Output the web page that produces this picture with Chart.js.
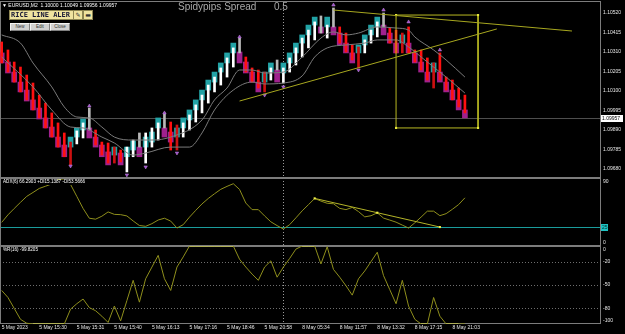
<!DOCTYPE html>
<html>
<head>
<meta charset="utf-8">
<script src="https://cdn.jsdelivr.net/npm/chart.js@4.4.1/dist/chart.umd.min.js"></script>
<style>
  body { margin: 0; background: #000; }
  #wrap { position: relative; width: 625px; height: 334px; overflow: hidden; background: #000; font-family: "Liberation Sans", Arial, sans-serif; }
  canvas { position: absolute; left: 0; }
  .txt { position: absolute; white-space: nowrap; line-height: 1; }
  #alertBox { position: absolute; left: 9px; top: 10px; width: 62px; height: 8px; background: #efe3a0; border: 1px solid #8d8552;
              font: bold 7px "DejaVu Sans Mono", monospace; color: #141432; line-height: 8px; padding-left: 1px; overflow: hidden; white-space: nowrap; }
  .iconBtn { position: absolute; top: 10px; width: 8px; height: 8px; background: #efe3a0; border: 1px solid #8d8552;
             font: 6px "DejaVu Sans", sans-serif; color: #333; line-height: 8px; text-align: center; }
  .btn { position: absolute; top: 23px; width: 18px; height: 6px; background: #d0d0d0; border: 1px solid #f4f4f4; border-right-color: #808080; border-bottom-color: #808080;
         font: 4.5px "Liberation Sans", sans-serif; color: #303030; line-height: 6px; text-align: center; }
</style>
</head>
<body>
<div id="wrap">
  <canvas id="mainChart" width="625" height="178" style="top:0"></canvas>
  <canvas id="adxChart" width="625" height="68" style="top:178px"></canvas>
  <canvas id="wprChart" width="625" height="88" style="top:246px"></canvas>

  <div class="txt" style="left:2px;top:3px;font-size:5px;color:#fff">&#9660; EURUSD,M2&nbsp; 1.10000 1.10049 1.09956 1.09957</div>
  <div class="txt" style="left:178px;top:1.5px;font-size:10px;color:#a8a8a8">Spidypips Spread</div>
  <div class="txt" style="left:274px;top:1.5px;font-size:10px;color:#a8a8a8">0.5</div>
  <div id="alertBox">RICE LINE ALER</div>
  <div class="iconBtn" style="left:73px">&#9998;</div>
  <div class="iconBtn" style="left:83px">&#9644;</div>
  <div class="btn" style="left:10px">New</div>
  <div class="btn" style="left:30px">Edit</div>
  <div class="btn" style="left:50px">Close</div>
  <div class="txt" style="left:3px;top:180px;font-size:4.6px;color:#fff;background:#000">ADX(6) 66.2903 +DI15.1387 -DI53.5666</div>
  <div class="txt" style="left:3px;top:248px;font-size:4.6px;color:#fff">%R(16) -99.8205</div>
</div>
<script>
// ---- data ----
const timeLabels = ['5 May 2023', '5 May 15:30', '5 May 15:31', '5 May 15:40', '5 May 16:13', '5 May 17:16', '5 May 18:46',
                    '5 May 20:58', '8 May 05:34', '8 May 11:57', '8 May 13:32', '8 May 17:15', '8 May 21:03'];
const timeLabelIdx = [0, 6, 12, 18, 24, 30, 36, 42, 48, 54, 60, 66, 72];

const priceTicks = [1.10520, 1.10415, 1.10310, 1.10205, 1.10100, 1.09995, 1.09890, 1.09785, 1.09680];
const lastPrice = 1.09957;

const realOpen = [1.10364, 1.10321, 1.10256, 1.10229, 1.10186, 1.10143, 1.10078, 1.10035, 1.09982, 1.09928,
  1.09874, 1.09825, 1.09815, 1.09847, 1.09890, 1.09890, 1.09825, 1.09820, 1.09798, 1.09782,
  1.09664, 1.09746, 1.09798, 1.09712, 1.09798, 1.09836, 1.09901, 1.09933, 1.09917, 1.09852,
  1.09890, 1.09933, 1.09982, 1.10035, 1.10095, 1.10132, 1.10175, 1.10229, 1.10305, 1.10283,
  1.10224, 1.10213, 1.10202, 1.10159, 1.10213, 1.10143, 1.10202, 1.10240, 1.10283, 1.10332,
  1.10375, 1.10412, 1.10385, 1.10445, 1.10445, 1.10412, 1.10348, 1.10337, 1.10305, 1.10358,
  1.10391, 1.10445, 1.10439, 1.10428, 1.10412, 1.10445, 1.10321, 1.10321, 1.10278, 1.10251,
  1.10305, 1.10175, 1.10159, 1.10116, 1.10078];
const realClose = [1.10251, 1.10202, 1.10148, 1.10095, 1.10052, 1.09998, 1.09955, 1.09901, 1.09852, 1.09798,
  1.09746, 1.09702, 1.09885, 1.09928, 1.10008, 1.09809, 1.09755, 1.09712, 1.09712, 1.09718,
  1.09798, 1.09836, 1.09874, 1.09874, 1.09901, 1.09928, 1.09982, 1.09782, 1.09782, 1.09928,
  1.09971, 1.10025, 1.10078, 1.10132, 1.10175, 1.10224, 1.10278, 1.10332, 1.10385, 1.10202,
  1.10148, 1.10116, 1.10095, 1.10224, 1.10267, 1.10224, 1.10278, 1.10332, 1.10385, 1.10428,
  1.10472, 1.10504, 1.10455, 1.10547, 1.10358, 1.10310, 1.10267, 1.10224, 1.10375, 1.10428,
  1.10472, 1.10520, 1.10358, 1.10305, 1.10305, 1.10305, 1.10256, 1.10213, 1.10159, 1.10116,
  1.10159, 1.10105, 1.10052, 1.10014, 1.09982];
const haOpen = [1.10305, 1.10256, 1.10202, 1.10148, 1.10105, 1.10052, 1.10008, 1.09955, 1.09906, 1.09852,
  1.09809, 1.09798, 1.09852, 1.09890, 1.09901, 1.09852, 1.09809, 1.09772, 1.09755, 1.09766,
  1.09746, 1.09782, 1.09798, 1.09798, 1.09825, 1.09901, 1.09901, 1.09879, 1.09852, 1.09901,
  1.09944, 1.09998, 1.10052, 1.10105, 1.10148, 1.10202, 1.10251, 1.10305, 1.10310, 1.10256,
  1.10202, 1.10148, 1.10148, 1.10202, 1.10213, 1.10197, 1.10251, 1.10305, 1.10358, 1.10402,
  1.10455, 1.10445, 1.10445, 1.10445, 1.10412, 1.10358, 1.10305, 1.10305, 1.10348, 1.10402,
  1.10445, 1.10455, 1.10412, 1.10358, 1.10358, 1.10358, 1.10305, 1.10256, 1.10202, 1.10202,
  1.10202, 1.10148, 1.10105, 1.10052, 1.09998];
const haClose = [1.10251, 1.10197, 1.10148, 1.10095, 1.10046, 1.09998, 1.09949, 1.09901, 1.09852, 1.09798,
  1.09746, 1.09852, 1.09901, 1.09949, 1.09847, 1.09798, 1.09746, 1.09702, 1.09798, 1.09702,
  1.09798, 1.09831, 1.09746, 1.09852, 1.09879, 1.09955, 1.09852, 1.09825, 1.09901, 1.09955,
  1.09998, 1.10052, 1.10105, 1.10159, 1.10202, 1.10251, 1.10305, 1.10358, 1.10251, 1.10197,
  1.10148, 1.10095, 1.10202, 1.10251, 1.10148, 1.10251, 1.10305, 1.10358, 1.10402, 1.10455,
  1.10498, 1.10412, 1.10498, 1.10402, 1.10348, 1.10305, 1.10251, 1.10348, 1.10402, 1.10455,
  1.10498, 1.10402, 1.10358, 1.10305, 1.10402, 1.10305, 1.10251, 1.10202, 1.10148, 1.10251,
  1.10148, 1.10095, 1.10052, 1.09998, 1.09955];

// moving averages, sampled at some bar indices
const ma1Idx = [0, 3, 5, 8, 10, 12, 14, 16, 18, 21, 24, 27, 32, 34, 36, 38, 40, 42, 45, 48, 51, 53, 55, 57, 60, 63, 65, 66, 69, 71, 74];
const ma1 = [1.10402, 1.10358, 1.10251, 1.10122, 1.10014, 1.09960, 1.09955, 1.09906, 1.09852, 1.09836, 1.09836, 1.09852,
  1.09944, 1.10052, 1.10116, 1.10213, 1.10213, 1.10197, 1.10202, 1.10283, 1.10385, 1.10418, 1.10402, 1.10412,
  1.10445, 1.10439, 1.10428, 1.10391, 1.10321, 1.10267, 1.10175];
const ma2Idx = [0, 5, 8, 11, 13, 16, 18, 21, 23, 27, 30, 32, 34, 37, 40, 42, 45, 48, 50, 52, 55, 58, 60, 63, 65, 67, 69, 71, 74];
const ma2 = [1.10283, 1.10122, 1.09998, 1.09906, 1.09901, 1.09852, 1.09820, 1.09755, 1.09766, 1.09798, 1.09798, 1.09874,
  1.09998, 1.10105, 1.10148, 1.10138, 1.10143, 1.10181, 1.10283, 1.10332, 1.10348, 1.10358, 1.10375, 1.10375,
  1.10337, 1.10283, 1.10229, 1.10175, 1.10089];

// fractal arrows
const fracUpIdx = [14, 26, 38, 53, 61, 65, 70];
const fracUp = [1.10019, 1.09982, 1.10391, 1.10563, 1.10536, 1.10472, 1.10321];
const fracDnIdx = [11, 20, 23, 28, 42, 45, 57];
const fracDn = [1.09696, 1.09648, 1.09691, 1.09766, 1.10078, 1.10122, 1.10213];

// drawn objects
const trend1Idx = [53, 91.1], trend1 = [1.10536, 1.10423];
const trend2Idx = [38, 79.1], trend2 = [1.10046, 1.10434];
const rectIdx = [63, 76.1], rectPrice = [1.10509, 1.09901];

const adx = [32.0, 42.5, 51.4, 60.0, 68.3, 73.8, 79.4, 82.5, 85.7, 92,
  91, 85, 68.3, 51.5, 37.8, 36.5, 40.6, 46.6, 43.2, 42.8,
  41.0, 34.0, 27.6, 26.5, 30.2, 35.3, 37.8, 33.8, 24.1, 28.8,
  39.3, 48.8, 57.8, 65.4, 72.0, 78.2, 82.3, 86.0, 78.0, 59.0,
  49.8, 49.8, 41.0, 32.8, 27.5, 22.7, 28.8, 38.3, 48.1, 56.7,
  65.4, 61.7, 58.7, 58.0, 51.6, 49.8, 52.9, 47.1, 39.7, 41.3,
  45.3, 38.0, 35.2, 32.3, 28.2, 24.1, 31.4, 39.4, 47.7, 47.7,
  41.4, 44.2, 50.3, 56.9, 66.3];
const adxLevel = 25;
const adxTicks = [90, 0];
const adxTrendIdx = [50, 60, 70], adxTrend = [65.5, 45.5, 25.5];

const wpr = [-57, -66, -80, -94, -99, -100, -100, -100, -100, -100,
  -100, -81, -74, -68, -79, -83, -90, -98, -77, -96,
  -70, -44, -72, -42, -27, -12, -42, -57, -27, -14,
  0, 0, 0, 0, 0, 0, 0, 0, -17, -27,
  -36, -44, -27, -19, -40, -27, -16, -4, 0, 0,
  0, -23, -1, -30, -40, -51, -63, -42, -32, -20,
  -8, -38, -56, -74, -44, -77, -94, -100, -100, -66,
  -90, -100, -100, -100, -99.82];
const wprTicks = [0, -20, -50, -80, -100];
const wprGrid = [-20, -50, -80];

const cursorIndex = 45;
const xMin = -0.27, xMax = 95.58;

// ---- helpers ----
const pts = (xs, ys) => xs.map((x, i) => ({ x: x, y: ys[i] }));
const haBull = i => haClose[i] >= haOpen[i];
const axisFont = { family: 'Liberation Sans', size: 5 };

// MT4 look: frame, level lines, cursor line, right-hand labels kept inside the pane
const mtDecor = {
  id: 'mtDecor',
  beforeDatasetsDraw(chart, args, opts) {
    const { ctx, chartArea: a, scales: { x, y } } = chart;
    ctx.save();
    ctx.lineWidth = 1;
    (opts.hLines || []).forEach(l => {
      const py = Math.round(y.getPixelForValue(l.value)) + 0.5;
      ctx.strokeStyle = l.color;
      ctx.setLineDash(l.dash || []);
      ctx.beginPath(); ctx.moveTo(a.left, py); ctx.lineTo(a.right, py); ctx.stroke();
    });
    const cx = Math.round(x.getPixelForValue(cursorIndex)) + 0.5;
    ctx.strokeStyle = '#9a9a9a';
    ctx.setLineDash([1, 2]);
    ctx.beginPath(); ctx.moveTo(cx, a.top); ctx.lineTo(cx, a.bottom); ctx.stroke();
    ctx.setLineDash([]);
    ctx.strokeStyle = '#7c7c7c';
    ctx.strokeRect(a.left + 0.5, a.top + 0.5, a.right - a.left, a.bottom - a.top - 1);
    ctx.restore();
  },
  afterDraw(chart, args, opts) {
    const { ctx, chartArea: a, scales: { y } } = chart;
    const fmt = opts.fmt || (v => String(v));
    ctx.save();
    ctx.font = '5px "Liberation Sans"';
    ctx.textBaseline = 'middle';
    ctx.fillStyle = '#e6e6e6';
    (opts.ticks || []).forEach(v => {
      let py = y.getPixelForValue(v);
      py = Math.min(Math.max(py, a.top + 3.5), a.bottom - 3.5);
      ctx.fillText(fmt(v), a.right + 3, py);
    });
    if (opts.box) {
      const py = Math.round(y.getPixelForValue(opts.box.value));
      ctx.fillStyle = opts.box.bg;
      ctx.fillRect(a.right + 1, py - 3, opts.box.w, 7);
      ctx.fillStyle = opts.box.fg;
      ctx.fillText(opts.box.text, a.right + 2, py + 0.5);
    }
    ctx.restore();
  }
};

const xHidden = () => ({ type: 'linear', min: xMin, max: xMax, offset: false, display: false });
const rightAxis = (min, max) => ({
  position: 'right', min: min, max: max,
  afterFit: s => { s.width = 25; },
  grid: { display: false, drawTicks: false }, border: { display: false },
  ticks: { display: false }
});

Chart.defaults.animation = false;
Chart.defaults.font.family = 'Liberation Sans';

// ---- main price pane ----
const candleIdx = realOpen.map((_, i) => i);
new Chart(document.getElementById('mainChart'), {
  type: 'bar',
  data: {
    datasets: [
      { type: 'line', label: 'trend1', data: pts(trend1Idx, trend1), borderColor: '#a7a71f', borderWidth: 1, pointRadius: 0, order: 0 },
      { type: 'line', label: 'trend2', data: pts(trend2Idx, trend2), borderColor: '#a7a71f', borderWidth: 1, pointRadius: 0, order: 0 },
      { type: 'line', label: 'rect',
        data: pts([rectIdx[0], rectIdx[1], rectIdx[1], rectIdx[0], rectIdx[0]],
                  [rectPrice[0], rectPrice[0], rectPrice[1], rectPrice[1], rectPrice[0]]),
        borderColor: '#b9b922', borderWidth: 1, pointStyle: 'rect', pointRadius: [1.5, 1.5, 1.5, 1.5, 0],
        pointBackgroundColor: '#e8e83c', pointBorderWidth: 0, order: 0 },
      { type: 'line', label: 'fractal up', data: pts(fracUpIdx, fracUp), showLine: false, pointStyle: 'triangle',
        pointRadius: 2, pointBackgroundColor: '#9c4cc8', pointBorderColor: '#c48ae0', pointBorderWidth: 0.5, order: 0 },
      { type: 'line', label: 'fractal down', data: pts(fracDnIdx, fracDn), showLine: false, pointStyle: 'triangle', rotation: 180,
        pointRadius: 2, pointBackgroundColor: '#9c4cc8', pointBorderColor: '#c48ae0', pointBorderWidth: 0.5, order: 0 },
      { type: 'line', label: 'ma1', data: pts(ma1Idx, ma1), borderColor: '#7a7a7a', borderWidth: 1, pointRadius: 0,
        cubicInterpolationMode: 'monotone', order: 1 },
      { type: 'line', label: 'ma2', data: pts(ma2Idx, ma2), borderColor: '#7a7a7a', borderWidth: 1, pointRadius: 0,
        cubicInterpolationMode: 'monotone', order: 1 },
      { label: 'candle', data: candleIdx.map(i => ({ x: i, y: [realOpen[i], realClose[i]] })),
        grouped: false, barThickness: 2, borderWidth: 0, order: 2,
        backgroundColor: c => {
          const i = c.dataIndex;
          if (realClose[i] >= realOpen[i]) return haBull(i) ? '#ffffff' : '#b8b8b8';
          return haBull(i) ? '#cc1010' : '#ff1010';
        } },
      { label: 'heiken ashi', data: candleIdx.map(i => ({ x: i, y: [haOpen[i], haClose[i]] })),
        grouped: false, barThickness: 5, borderWidth: 0, order: 3,
        backgroundColor: c => haBull(c.dataIndex) ? '#22a3a6' : '#a0218e' }
    ]
  },
  options: {
    responsive: false,
    devicePixelRatio: 1,
    layout: { padding: { top: 1, bottom: 0, left: 0, right: 0 }, autoPadding: false },
    plugins: {
      legend: { display: false }, tooltip: { enabled: false },
      mtDecor: {
        hLines: [{ value: lastPrice, color: '#4e4e4e' }],
        ticks: priceTicks, fmt: v => v.toFixed(5),
        box: { value: lastPrice, text: lastPrice.toFixed(5), bg: '#ffffff', fg: '#000000', w: 22 }
      }
    },
    scales: { x: xHidden(), y: rightAxis(1.096315, 1.105846) }
  },
  plugins: [mtDecor]
});

// ---- ADX pane ----
new Chart(document.getElementById('adxChart'), {
  type: 'line',
  data: {
    datasets: [
      { label: 'adx trend', data: pts(adxTrendIdx, adxTrend), borderColor: '#b4b428', borderWidth: 1,
        pointStyle: 'rect', pointRadius: 1.5, pointBackgroundColor: '#f0f04a', pointBorderWidth: 0 },
      { label: 'ADX(6)', data: adx.map((v, i) => ({ x: i, y: v })), borderColor: '#8f8f1c', borderWidth: 1, pointRadius: 0 }
    ]
  },
  options: {
    responsive: false,
    devicePixelRatio: 1,
    layout: { padding: 0, autoPadding: false },
    plugins: {
      legend: { display: false }, tooltip: { enabled: false },
      mtDecor: {
        hLines: [{ value: adxLevel, color: '#1a9c9c' }],
        ticks: adxTicks,
        box: { value: adxLevel, text: String(adxLevel), bg: '#1fc4c4', fg: '#003030', w: 7 }
      }
    },
    scales: { x: xHidden(), y: rightAxis(-1, 94) }
  },
  plugins: [mtDecor]
});

// ---- Williams %R pane ----
new Chart(document.getElementById('wprChart'), {
  type: 'line',
  data: {
    datasets: [
      { label: '%R(16)', data: wpr.map((v, i) => ({ x: i, y: v })), borderColor: '#8f8f1c', borderWidth: 1, pointRadius: 0,
        segment: { borderColor: c => (c.p0.parsed.y === c.p1.parsed.y && (c.p0.parsed.y === 0 || c.p0.parsed.y === -100)) ? '#e4e431' : undefined } }
    ]
  },
  options: {
    responsive: false,
    devicePixelRatio: 1,
    layout: { padding: 0, autoPadding: false },
    plugins: {
      legend: { display: false }, tooltip: { enabled: false },
      mtDecor: { hLines: wprGrid.map(v => ({ value: v, color: '#6e6e6e', dash: [1, 2] })), ticks: wprTicks }
    },
    scales: {
      x: {
        type: 'linear', min: xMin, max: xMax, offset: false,
        afterFit: s => { s.height = 10; },
        afterBuildTicks: s => { s.ticks = timeLabelIdx.map(v => ({ value: v })); },
        grid: { display: false, drawTicks: false }, border: { display: false },
        ticks: { color: '#e6e6e6', font: axisFont, padding: 1, align: 'start', autoSkip: false, maxRotation: 0,
                 callback: (v, i) => timeLabels[i] }
      },
      y: rightAxis(-100, 0)
    }
  },
  plugins: [mtDecor]
});
</script>
</body>
</html>
